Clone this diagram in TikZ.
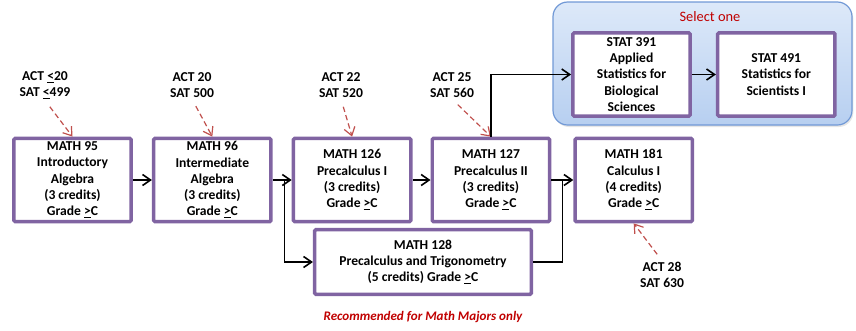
\documentclass[tikz,border=0pt]{standalone}
\usepackage{fontspec}
\setmainfont{Carlito}
\usetikzlibrary{arrows.meta,positioning,calc,shadows}
\definecolor{coursepurple}{HTML}{8064A2}
\definecolor{reqred}{HTML}{C0504D}
\definecolor{notered}{HTML}{C00000}
\definecolor{selblue}{HTML}{7199D6}
\definecolor{seltop}{HTML}{DDE9F9}
\definecolor{selbot}{HTML}{B7CFF0}
\tikzset{
  >={Straight Barb[length=2.1mm, width=2.9mm]},
  course/.style={draw=coursepurple, line width=2.6pt, fill=white, rounded corners=1pt, align=center, minimum width=88pt, minimum height=62.5pt, inner sep=2pt},
  wide/.style={minimum width=162.5pt, minimum height=48.5pt},
  req/.style={align=center, inner sep=1pt, font=\bfseries\fontsize{10.2}{12}\selectfont},
  reqarrow/.style={->, draw=reqred, line width=0.9pt, dash pattern=on 4pt off 2.5pt, shorten <=6pt},
  flow/.style={->, line width=1.2pt},
  joinline/.style={line width=1.2pt},
  selgroup/.style={draw=selblue, line width=0.9pt, rounded corners=11pt, top color=seltop, bottom color=selbot, drop shadow={opacity=0.2, shadow xshift=1pt, shadow yshift=-1.5pt}},
  selnote/.style={text=notered, font=\fontsize{10.8}{12}\selectfont},
  note/.style={text=notered, font=\bfseries\itshape\fontsize{9.8}{11}\selectfont},
}
\begin{document}
\begin{tikzpicture}[x=0.75pt, y=-0.75pt, font=\bfseries\fontsize{10.2}{12.2}\selectfont]
  \useasboundingbox (0,0) rectangle (856,330);

  % select-one group
  \draw[selgroup] (553,2) rectangle (852,125);
  \node[selnote] (selone) at (710,17) {Select one};

  % courses
  \node[course] (m95) at (72.5,180) {MATH 95\\Introductory\\Algebra\\(3 credits)\\Grade \underline{>}C};
  \node[course, right=14.25pt of m95] (m96) {MATH 96\\Intermediate\\Algebra\\(3 credits)\\Grade \underline{>}C};
  \node[course, right=14.25pt of m96] (m126) {MATH 126\\Precalculus I\\(3 credits)\\Grade \underline{>}C};
  \node[course, right=13.5pt of m126] (m127) {MATH 127\\Precalculus II\\(3 credits)\\Grade \underline{>}C};
  \node[course, right=16.5pt of m127] (m181) {MATH 181\\Calculus I\\(4 credits)\\Grade \underline{>}C};
  \node[course, wide] (m128) at (423,262) {MATH 128\\Precalculus and Trigonometry\\(5 credits) Grade \underline{>}C};
  \node[course] (s391) at (631.5,74.5) {STAT 391\\Applied\\Statistics for\\Biological\\Sciences};
  \node[course, right=18pt of s391] (s491) {STAT 491\\Statistics for\\Scientists I};

  % placement scores
  \node[req] (r95) at (45,85) {ACT \underline{<}20\\SAT \underline{<}499};
  \node[req] (r96) at (192,85) {ACT 20\\SAT 500};
  \node[req] (r126) at (341,85) {ACT 22\\SAT 520};
  \node[req] (r127) at (452,85) {ACT 25\\SAT 560};
  \node[req] (r181) at (662,275) {ACT 28\\SAT 630};

  \draw[reqarrow] (r95.south) -- (m95.north);
  \draw[reqarrow] (r96.south) -- (m96.north);
  \draw[reqarrow] (r126.south) -- (m126.north);
  \draw[reqarrow] (r127.south) -- (m127.north);
  \draw[reqarrow] (r181.north) -- (m181.south);

  % sequence
  \draw[flow] (m95) -- (m96);
  \draw[flow] (m96) -- (m126);
  \draw[flow] (m126) -- (m127);
  \draw[flow] (m127) -- (m181);
  \draw[flow] (s391) -- (s491);
  \draw[flow] (m127.north) |- (s391.west);
  \draw[flow] ($(m96.east)!0.63!(m126.west)$) |- (m128.west);
  \draw[joinline] (m128.east) -| ($(m127.east)!0.5!(m181.west)$);

  \node[note] (majors) at (423,317) {Recommended for Math Majors only};
\end{tikzpicture}
\end{document}
